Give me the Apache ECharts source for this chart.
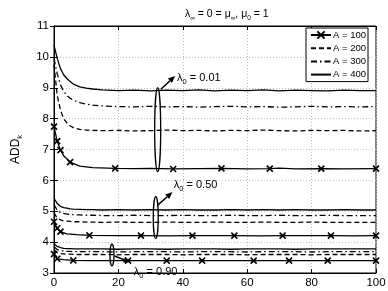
<!DOCTYPE html>
<html>
<head>
<meta charset="utf-8">
<script src="https://cdn.jsdelivr.net/npm/echarts@6/dist/echarts.min.js"></script>
<style>
html,body{margin:0;padding:0;background:#fff;}
#c{width:388px;height:291px;}
</style>
</head>
<body>
<div id="c"></div>
<script>
// ---- data ----
const kGrid = [0,1,2,3,4,5,6,8,10,12,15,20,25,30,35,40,45,50,55,60,65,70,75,80,85,90,95,100];

// lambda0 = 0.01
const l01_A400 = [10.38,9.95,9.62,9.42,9.30,9.20,9.12,9.03,8.99,8.96,8.93,8.91,8.92,8.90,8.92,8.91,8.93,8.90,8.92,8.91,8.93,8.90,8.92,8.91,8.90,8.92,8.91,8.91];
const l01_A300 = [9.95,9.45,9.10,8.88,8.75,8.66,8.60,8.52,8.47,8.44,8.41,8.39,8.38,8.40,8.38,8.39,8.37,8.39,8.40,8.38,8.39,8.37,8.38,8.40,8.38,8.39,8.38,8.39];
const l01_A200 = [9.75,8.75,8.28,8.00,7.86,7.77,7.71,7.65,7.63,7.62,7.61,7.62,7.60,7.61,7.63,7.61,7.62,7.60,7.62,7.61,7.63,7.61,7.60,7.62,7.61,7.62,7.60,7.61];
const l01_A100_k = [0,1,2,3,5,8,12,19,25,30,37,45,52,60,67,70,75,83,90,100];
const l01_A100 = [7.74,7.27,6.98,6.80,6.59,6.46,6.41,6.39,6.38,6.39,6.37,6.38,6.39,6.37,6.38,6.40,6.37,6.38,6.37,6.38];
const l01_A100_marks = [0,1,2,5,19,37,52,67,83,100];

// lambda0 = 0.50
const l50_A400 = [5.43,5.25,5.16,5.12,5.10,5.08,5.07,5.06,5.05,5.05,5.04,5.05,5.04,5.05,5.04,5.05,5.04,5.04,5.05,5.04,5.05,5.04,5.05,5.04,5.04,5.05,5.04,5.04];
const l50_A300 = [5.22,5.03,4.96,4.93,4.91,4.90,4.89,4.88,4.87,4.87,4.86,4.86,4.87,4.86,4.86,4.87,4.86,4.86,4.87,4.86,4.86,4.87,4.86,4.86,4.87,4.86,4.86,4.86];
const l50_A200 = [4.95,4.78,4.72,4.69,4.68,4.67,4.66,4.66,4.65,4.65,4.64,4.65,4.64,4.64,4.65,4.64,4.64,4.65,4.64,4.64,4.65,4.64,4.64,4.65,4.64,4.64,4.64,4.64];
const l50_A100_k = [0,1,2,4,7,11,20,27,35,43,50,56,64,71,80,86,93,100];
const l50_A100 = [4.66,4.45,4.34,4.27,4.24,4.22,4.21,4.21,4.20,4.21,4.21,4.21,4.20,4.21,4.21,4.21,4.20,4.21];
const l50_A100_marks = [0,1,2,11,27,43,56,71,86,100];

// lambda0 = 0.90
const l90_A400 = [3.95,3.86,3.82,3.80,3.79,3.79,3.78,3.78,3.78,3.78,3.78,3.77,3.78,3.78,3.77,3.78,3.78,3.78,3.77,3.78,3.78,3.78,3.77,3.78,3.78,3.78,3.78,3.78];
const l90_A300 = [3.85,3.76,3.73,3.71,3.70,3.70,3.69,3.69,3.69,3.69,3.69,3.68,3.69,3.69,3.69,3.68,3.69,3.69,3.69,3.68,3.69,3.69,3.69,3.68,3.69,3.69,3.69,3.69];
const l90_A200 = [3.76,3.66,3.63,3.62,3.61,3.61,3.60,3.60,3.60,3.60,3.60,3.59,3.60,3.60,3.60,3.59,3.60,3.60,3.60,3.59,3.60,3.60,3.60,3.59,3.60,3.60,3.60,3.60];
const l90_A100_k = [0,1,3,6,12,23,29,35,46,54,62,73,85,92,100];
const l90_A100 = [3.61,3.46,3.43,3.41,3.40,3.40,3.40,3.40,3.40,3.40,3.40,3.40,3.40,3.40,3.40];
const l90_A100_marks = [0,1,6,23,35,46,62,73,85,100];

const legendNames = ['A = 100','A = 200','A = 300','A = 400'];
const xTicks = {min:0, max:100, interval:20};
const yTicks = {min:3, max:11, interval:1};

// annotations (data coordinates)
const annoLabels = ['0.01','0.50','0.90'];
const annoEllipseK = [32.2, 31.6, 18.0];
const annoEllipseTop = [9.0, 5.47, 3.94];
const annoEllipseBottom = [6.28, 4.12, 3.23];
const annoArrowFrom = [[33.2,8.95],[32.2,5.2],[18.8,3.55]];
const annoArrowTo = [[37.6,9.38],[36.8,5.62],[23.8,3.35]];
const annoTextAt = [[38.2,9.33],[37.2,5.85],[24.8,3.04]];

// ---- build ----
const FONT = 'Liberation Sans, Arial, Helvetica, sans-serif';
const XMARK = 'path://M0,0L10,10M10,0L0,10';
const dashStyles = {
  'A = 400': {type:'solid'},
  'A = 300': {type:[6,3,1.5,3]},
  'A = 200': {type:[5,3]},
};

function plain(name, ks, vs) {
  return {
    name, type:'line', symbol:'none', showSymbol:false,
    data: ks.map((k,i)=>[k,vs[i]]),
    lineStyle:{color:'#000', width:1.3, type: dashStyles[name].type},
    itemStyle:{color:'rgba(0,0,0,0)', borderColor:'rgba(0,0,0,0)', borderWidth:0},
    z: 3, silent:true
  };
}
function marked(ks, vs, marks) {
  return {
    name:'A = 100', type:'line', symbol:XMARK, symbolSize:6, showAllSymbol:true,
    data: ks.map((k,i)=> marks.indexOf(k) >= 0 ? {value:[k,vs[i]]} : {value:[k,vs[i]], symbol:'none'}),
    lineStyle:{color:'#000', width:1.3},
    itemStyle:{color:'#000', borderColor:'#000', borderWidth:1.6},
    z: 4, silent:true
  };
}

const series = [
  marked(l01_A100_k, l01_A100, l01_A100_marks),
  plain('A = 200', kGrid, l01_A200),
  plain('A = 300', kGrid, l01_A300),
  plain('A = 400', kGrid, l01_A400),
  marked(l50_A100_k, l50_A100, l50_A100_marks),
  plain('A = 200', kGrid, l50_A200),
  plain('A = 300', kGrid, l50_A300),
  plain('A = 400', kGrid, l50_A400),
  marked(l90_A100_k, l90_A100, l90_A100_marks),
  plain('A = 200', kGrid, l90_A200),
  plain('A = 300', kGrid, l90_A300),
  plain('A = 400', kGrid, l90_A400),
];

const subRich = {
  a:{fontSize:11, fontFamily:FONT, color:'#000', lineHeight:16, verticalAlign:'middle'},
  s:{fontSize:7.5, fontFamily:FONT, color:'#000', lineHeight:7, verticalAlign:'bottom'}
};

const chart = echarts.init(document.getElementById('c'), null, {renderer:'canvas'});
const axisCommon = {
  axisLine:{show:true, lineStyle:{color:'#000', width:1}},
  axisTick:{show:true, inside:true, length:4, lineStyle:{color:'#000'}},
};
chart.setOption({
  animation:false,
  backgroundColor:'#fff',
  title:{
    text:'{a|λ}{s|∞}{a| = 0 = μ}{s|∞}{a|, μ}{s|0}{a| = 1}',
    left:180, top:2,
    textStyle:{fontWeight:'normal', rich:{
      a:{fontSize:10.5, fontFamily:FONT, fontWeight:'normal', color:'#000', lineHeight:15, verticalAlign:'middle'},
      s:{fontSize:6.5, fontFamily:FONT, fontWeight:'normal', color:'#000', lineHeight:6, verticalAlign:'bottom'}
    }}
  },
  grid:{left:54, right:12, top:26, bottom:18, show:true, borderColor:'#000', borderWidth:1,
    backgroundColor:'transparent', containLabel:false, outerBoundsMode:'none'},
  legend:{
    data:[
      {name:legendNames[0]},
      {name:legendNames[1], itemStyle:{opacity:0}},
      {name:legendNames[2], itemStyle:{opacity:0}},
      {name:legendNames[3], itemStyle:{opacity:0}}
    ],
    orient:'vertical', left:306, top:28,
    backgroundColor:'#fff', borderColor:'#000', borderWidth:1,
    padding:[2,2,2,4], itemGap:3.2, itemWidth:20, itemHeight:9,
    textStyle:{fontSize:9.5, fontFamily:FONT, color:'#000', padding:[0,0,0,-3]},
    selectedMode:false
  },
  xAxis:[{
    type:'value', min:xTicks.min, max:xTicks.max, interval:xTicks.interval,
    ...axisCommon,
    axisLabel:{fontSize:11.5, fontFamily:FONT, color:'#000', margin:4},
    splitLine:{show:true, lineStyle:{color:'#bdbdbd', type:[1,2], width:1}},
    name:'k', nameLocation:'middle', nameGap:4,
    nameTextStyle:{fontSize:11.5, fontFamily:FONT, color:'#000', padding:[0,0,0,14]}
  },{
    type:'value', position:'top', min:xTicks.min, max:xTicks.max, interval:xTicks.interval,
    ...axisCommon, axisLabel:{show:false}, splitLine:{show:false}
  }],
  yAxis:[{
    type:'value', min:yTicks.min, max:yTicks.max, interval:yTicks.interval,
    ...axisCommon,
    axisLabel:{fontSize:11.5, fontFamily:FONT, color:'#000', margin:5},
    splitLine:{show:true, lineStyle:{color:'#bdbdbd', type:[1,2], width:1}},
    name:'{a|ADD}{s|k}', nameLocation:'middle', nameGap:30, nameRotate:90,
    nameTextStyle:{rich:{
      a:{fontSize:12, fontFamily:FONT, color:'#000', lineHeight:16, verticalAlign:'middle'},
      s:{fontSize:7.5, fontFamily:FONT, color:'#000', lineHeight:7, verticalAlign:'bottom'}
    }}
  },{
    type:'value', position:'right', min:yTicks.min, max:yTicks.max, interval:yTicks.interval,
    ...axisCommon, axisLabel:{show:false}, splitLine:{show:false}
  }],
  series
});

// annotations via axis conversion
const gfx = [];
for (let i = 0; i < annoLabels.length; i++) {
  const top = chart.convertToPixel({xAxisIndex:0, yAxisIndex:0}, [annoEllipseK[i], annoEllipseTop[i]]);
  const bot = chart.convertToPixel({xAxisIndex:0, yAxisIndex:0}, [annoEllipseK[i], annoEllipseBottom[i]]);
  const rx = i === 2 ? 2 : (i === 1 ? 2.5 : 3);
  gfx.push({type:'ellipse', z:10, shape:{cx:top[0], cy:(top[1]+bot[1])/2, rx, ry:(bot[1]-top[1])/2},
    style:{fill:'none', stroke:'#000', lineWidth:1.3}});
  const p0 = chart.convertToPixel({xAxisIndex:0, yAxisIndex:0}, annoArrowFrom[i]);
  const p1 = chart.convertToPixel({xAxisIndex:0, yAxisIndex:0}, annoArrowTo[i]);
  const ang = Math.atan2(p1[1]-p0[1], p1[0]-p0[0]);
  const L = 7, W = 3;
  const bx = p1[0] - L*Math.cos(ang), by = p1[1] - L*Math.sin(ang);
  gfx.push({type:'line', z:10, shape:{x1:p0[0], y1:p0[1], x2:bx, y2:by}, style:{stroke:'#000', lineWidth:1.5}});
  gfx.push({type:'polygon', z:10, shape:{points:[
    [p1[0],p1[1]],
    [bx + W*Math.sin(ang), by - W*Math.cos(ang)],
    [bx - W*Math.sin(ang), by + W*Math.cos(ang)]
  ]}, style:{fill:'#000'}});
  const tp = chart.convertToPixel({xAxisIndex:0, yAxisIndex:0}, annoTextAt[i]);
  gfx.push({type:'text', z:11, x:tp[0], y:tp[1], style:{
    text:'{a|λ}{s|0}{a| = ' + annoLabels[i] + '}', rich:subRich,
    verticalAlign:'middle', align:'left'
  }});
}
chart.setOption({graphic:gfx});
</script>
</body>
</html>
